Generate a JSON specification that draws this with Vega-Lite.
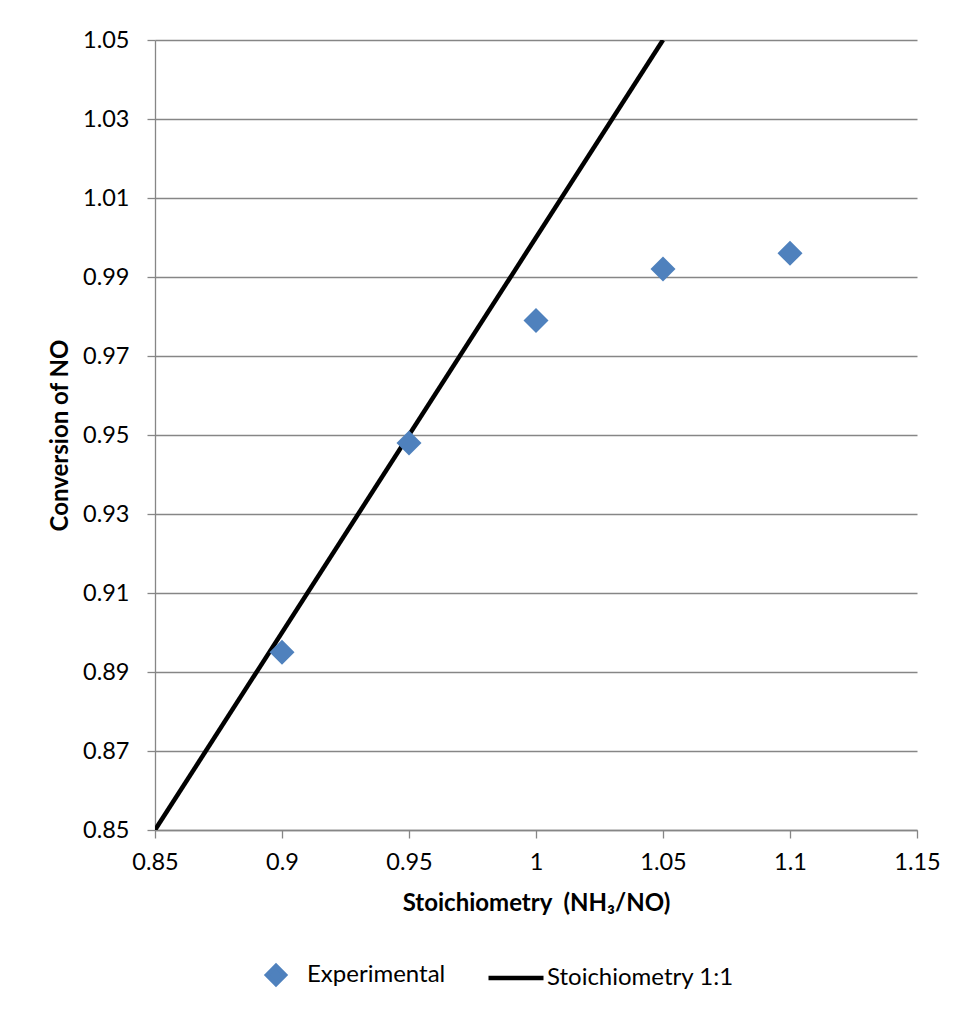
{
  "$schema": "https://vega.github.io/schema/vega-lite/v6.json",
  "width": 762,
  "height": 790,
  "autosize": {"type": "none"},
  "padding": {"left": 155, "top": 40, "right": 42, "bottom": 182},
  "background": "#ffffff",
  "config": {
    "font": "Lato",
    "view": {"stroke": null},
    "axis": {
      "labelFont": "Lato",
      "labelFontSize": 23.5,
      "labelColor": "#000000",
      "titleFont": "Lato",
      "titleFontSize": 24,
      "titleFontWeight": "bold",
      "titleColor": "#000000",
      "domainColor": "#868686",
      "domainWidth": 1.3,
      "tickColor": "#868686",
      "tickWidth": 1.3,
      "tickSize": 8,
      "gridColor": "#868686",
      "gridWidth": 1.3
    }
  },
  "datasets": {
    "experimental": [
      {"ratio": 0.90, "conversion": 0.895, "series": "Experimental"},
      {"ratio": 0.95, "conversion": 0.948, "series": "Experimental"},
      {"ratio": 1.00, "conversion": 0.979, "series": "Experimental"},
      {"ratio": 1.05, "conversion": 0.992, "series": "Experimental"},
      {"ratio": 1.10, "conversion": 0.996, "series": "Experimental"}
    ],
    "stoichiometric": [
      {"ratio": 0.85, "conversion": 0.85, "series": "Stoichiometry 1:1"},
      {"ratio": 1.05, "conversion": 1.05, "series": "Stoichiometry 1:1"}
    ]
  },
  "encoding": {
    "x": {
      "field": "ratio",
      "type": "quantitative",
      "scale": {"domain": [0.85, 1.15], "nice": false, "zero": false},
      "axis": {
        "title": "Stoichiometry\u00a0\u00a0(NH₃/NO)",
        "values": [0.85, 0.9, 0.95, 1, 1.05, 1.1, 1.15],
        "format": "~g",
        "grid": false,
        "labelPadding": 12,
        "titlePadding": 18,
        "labelFlush": false
      }
    },
    "y": {
      "field": "conversion",
      "type": "quantitative",
      "scale": {"domain": [0.85, 1.05], "nice": false, "zero": false},
      "axis": {
        "title": "Conversion of NO",
        "values": [0.85, 0.87, 0.89, 0.91, 0.93, 0.95, 0.97, 0.99, 1.01, 1.03, 1.05],
        "format": ".2f",
        "grid": true,
        "labelPadding": 18,
        "titlePadding": 10
      }
    },
    "color": {
      "field": "series",
      "type": "nominal",
      "scale": {
        "domain": ["Experimental", "Stoichiometry 1:1"],
        "range": ["#4F81BD", "#000000"]
      },
      "legend": {
        "title": null,
        "orient": "none",
        "legendX": 91,
        "legendY": 905,
        "direction": "horizontal",
        "padding": 0,
        "symbolSize": 3025,
        "symbolStrokeWidth": 4,
        "labelFont": "Lato",
        "labelFontSize": 24,
        "labelColor": "#000000",
        "labelOffset": 1,
        "labelLimit": 400,
        "columnPadding": 33,
        "encode": {
          "symbols": {
            "update": {
              "shape": {"signal": "datum.value === 'Experimental' ? 'diamond' : 'stroke'"},
              "size": {"signal": "datum.value === 'Experimental' ? 324 : 3025"},
              "fill": {"signal": "datum.value === 'Experimental' ? '#4F81BD' : 'transparent'"},
              "stroke": {"signal": "datum.value === 'Experimental' ? 'transparent' : '#000000'"},
              "strokeWidth": {"value": 4.5},
              "opacity": {"value": 1}
            }
          }
        }
      }
    }
  },
  "layer": [
    {
      "data": {"name": "stoichiometric"},
      "mark": {"type": "line", "strokeWidth": 4.5, "clip": true}
    },
    {
      "data": {"name": "experimental"},
      "mark": {"type": "point", "shape": "diamond", "filled": true, "size": 625, "opacity": 1}
    }
  ]
}
